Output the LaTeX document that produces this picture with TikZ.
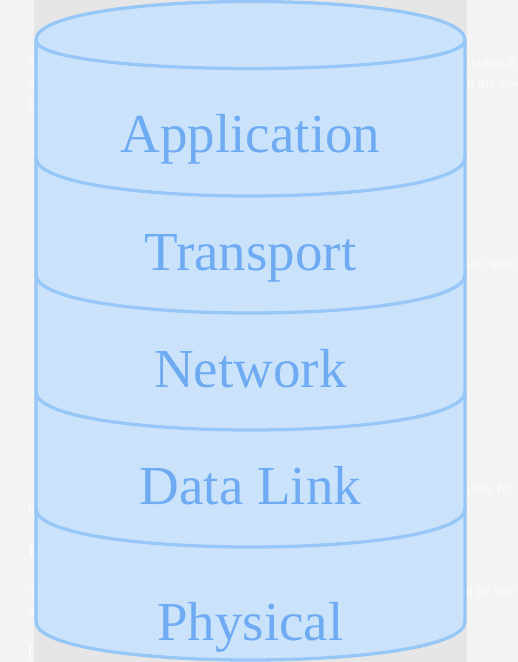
\documentclass[tikz,border=0pt]{standalone}
\usepackage{fontspec}
\setmainfont{Liberation Serif}
\definecolor{pagebg}{HTML}{F3F3F3}
\definecolor{stripbg}{HTML}{E6E6E6}
\definecolor{cylfill}{HTML}{CAE3FB}
\definecolor{cylline}{HTML}{97C7F7}
\definecolor{cyltext}{HTML}{6EABF2}
\definecolor{ghost}{HTML}{FDFDFD}
\tikzset{
  layerlabel/.style={anchor=base, text=cyltext, inner sep=0pt, font=\fontsize{55}{60}\selectfont},
  ghosttext/.style={anchor=base west, text=ghost, inner sep=0pt, font=\fontsize{14}{16}\selectfont},
  ghostbig/.style={anchor=base west, text=ghost, inner sep=0pt, font=\fontsize{20}{22}\selectfont},
  cylstroke/.style={draw=cylline, line width=3.3pt},
}
\begin{document}
\begin{tikzpicture}[x=1pt,y=-1pt]
\useasboundingbox (0,0) rectangle (518,662);
\fill[pagebg] (0,0) rectangle (518,662);
% faint page text behind the strip
\node[ghosttext] (g1) at (467,67) {within th};
\node[ghosttext] (g2) at (467,88) {n the ove};
\node[ghosttext] (g3) at (467,268) {ent speci};
\node[ghosttext] (g4) at (467,493) {rting fro};
\node[ghosttext] (g5) at (466,594) {g go into};
\node[ghosttext] (l1) at (28,67) {S};
\node[ghosttext] (l2) at (28,88) {d};
\node[ghosttext] (l3) at (28,110) {F};
\node[ghosttext] (l4) at (28,512) {b};
\node[ghostbig] (l5) at (28,557) {F};
\node[ghosttext] (l6) at (28,595) {T};
\node[ghosttext] (l7) at (28,616) {a};
\node[ghostbig] (l8) at (28,658) {[};
\fill[stripbg] (34,0) rectangle (467,662);
% cylinder body
\path[fill=cylfill, cylstroke]
  (36,40) .. controls (36,-11.33) and (465,-11.33) .. (465,40)
  -- (465,621.5) .. controls (465,672.83) and (36,672.83) .. (36,621.5) -- cycle;
% top ellipse lower arc
\draw[cylstroke] (36,40) .. controls (36,78) and (465,78) .. (465,40);
% layer separators
\foreach \a in {196,313,430,547}{
  \draw[cylstroke] (36,\a-38.5) .. controls (36,\a+12.83) and (465,\a+12.83) .. (465,\a-38.5);
}
\node[layerlabel] (app) at (250.5,152) {Application};
\node[layerlabel] (trn) at (250.5,270) {Transport};
\node[layerlabel] (net) at (250.5,387) {Network};
\node[layerlabel] (dl) at (250.5,504) {Data Link};
\node[layerlabel] (phy) at (250.5,640) {Physical};
\end{tikzpicture}
\end{document}
